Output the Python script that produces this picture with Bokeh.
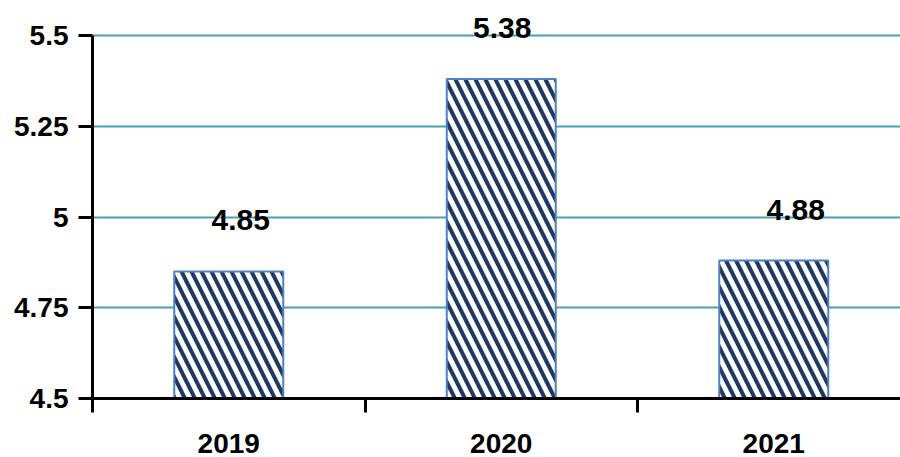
from bokeh.plotting import figure
from bokeh.models import ColumnDataSource, Range1d, FixedTicker, LabelSet
from bokeh.core.properties import value
from bokeh.embed import file_html
from bokeh.resources import INLINE

# Data
years = ["2019", "2020", "2021"]
values = [4.85, 5.38, 4.88]
y_ticks = [4.5, 4.75, 5.0, 5.25, 5.5]
y_tick_labels = ["4.5", "4.75", "5", "5.25", "5.5"]

# Horizontal nudges (px) for the value labels
label_dx = [12, 1, 22]

FONT = "Liberation Sans"
GRID = "#4a9fb5"

Y_MIN, Y_MAX = 4.5, 5.5
PX_PER_UNIT = 363          # vertical scale of the plot area
HEADROOM = 25              # px above the top gridline kept for labels

slots = [i + 0.5 for i in range(len(years))]       # category centres
bounds = list(range(len(years) + 1))                 # category boundaries

src = ColumnDataSource(dict(
    x=slots,
    top=values,
    label=[f"{v:.2f}" for v in values],
    dx=label_dx,
))

p = figure(
    width=900, height=457,
    output_backend="svg", toolbar_location=None,
    x_range=Range1d(0, 808 / 272.5),
    y_range=Range1d(Y_MIN, Y_MAX + HEADROOM / PX_PER_UNIT),
    min_border_left=92, min_border_right=0,
    min_border_top=35 - HEADROOM, min_border_bottom=59,
)
p.outline_line_color = None
p.background_fill_color = "white"
p.border_fill_color = "white"

# Bars with diagonal hatching
p.vbar(x="x", top="top", bottom=Y_MIN, width=0.4, source=src,
       fill_color="white", line_color="#4f81bd", line_width=2,
       hatch_pattern="\\", hatch_color="#1f3864",
       hatch_weight=4, hatch_scale=20)

# Value labels above the bars
labels = LabelSet(x="x", y="top", text="label", source=src,
                  x_offset="dx", y_offset=51,
                  text_align="center", text_baseline="middle",
                  text_font=value(FONT), text_font_size=value("30px"),
                  text_font_style="bold", text_color="black")
p.add_layout(labels)

# Y axis
p.yaxis.ticker = FixedTicker(ticks=y_ticks)
p.yaxis.major_label_overrides = {t: s for t, s in zip(y_ticks, y_tick_labels)}
p.yaxis.bounds = (Y_MIN, Y_MAX)
p.yaxis.axis_line_width = 3
p.yaxis.axis_line_color = "black"
p.yaxis.major_tick_line_width = 3
p.yaxis.major_tick_line_color = "black"
p.yaxis.major_tick_out = 14
p.yaxis.major_tick_in = 0
p.yaxis.minor_tick_line_color = None
p.yaxis.major_label_standoff = 10
p.yaxis.major_label_text_font = FONT
p.yaxis.major_label_text_font_size = "28px"
p.yaxis.major_label_text_font_style = "bold"
p.yaxis.major_label_text_color = "black"

# X axis: labels at category centres, ticks at boundaries
p.xaxis.ticker = FixedTicker(ticks=slots, minor_ticks=bounds)
p.xaxis.major_label_overrides = {s: y for s, y in zip(slots, years)}
p.xaxis.axis_line_width = 3
p.xaxis.axis_line_color = "black"
p.xaxis.major_tick_line_color = None
p.xaxis.major_tick_out = 0
p.xaxis.major_tick_in = 0
p.xaxis.minor_tick_line_color = "black"
p.xaxis.minor_tick_line_width = 3
p.xaxis.minor_tick_out = 14
p.xaxis.minor_tick_in = 0
p.xaxis.major_label_standoff = 21
p.xaxis.major_label_text_font = FONT
p.xaxis.major_label_text_font_size = "28px"
p.xaxis.major_label_text_font_style = "bold"
p.xaxis.major_label_text_color = "black"

# Grid
p.xgrid.visible = False
p.ygrid.ticker = FixedTicker(ticks=y_ticks)
p.ygrid.grid_line_color = GRID
p.ygrid.grid_line_width = 2

open("out.html", "w").write(file_html(p, INLINE))
